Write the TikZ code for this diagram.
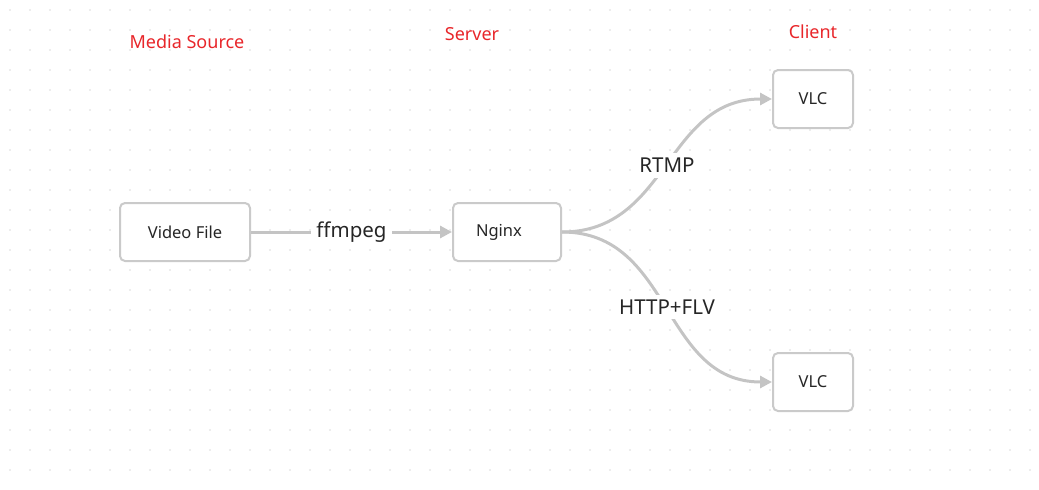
\documentclass[tikz,border=0pt]{standalone}
\usepackage{fontspec}
\setmainfont{Noto Sans}
\usetikzlibrary{arrows.meta}
\definecolor{edgegray}{HTML}{C4C4C4}
\definecolor{boxgray}{HTML}{CACACA}
\definecolor{titlered}{HTML}{E8262A}
\definecolor{dotgray}{HTML}{DADADA}
\begin{document}
\begin{tikzpicture}[x=1pt,y=-1pt,
  block/.style={draw=boxgray,line width=2pt,rounded corners=5pt,fill=white,
    minimum width=130pt,minimum height=58pt,font=\fontsize{16.5}{19}\selectfont,text=black!85},
  client/.style={block,minimum width=80pt},
  title/.style={text=titlered,font=\fontsize{18}{21}\selectfont},
  flow/.style={draw=edgegray,line width=3pt,-{Triangle[length=12pt,width=12pt]}},
  tag/.style={fill=white,inner sep=5pt,font=\fontsize{20.5}{24}\selectfont,text=black!85}]
  \useasboundingbox (0,0) rectangle (1039,490);
  % dot grid
  \foreach \i in {0,...,51}
    \foreach \j in {0,...,23}
      \fill [dotgray] (10+20*\i,10+20*\j) circle (0.8pt);
  \node[title] at (187,42) (src) {Media Source};
  \node[title] at (472,34) (srv) {Server};
  \node[title] at (813,32) (cli) {Client};
  \node[block] at (185,232) (video) {Video File};
  \node[block,minimum width=108pt,text width=62pt] at (507,232) (nginx) {Nginx};
  \node[client] at (813,99) (vlcA) {VLC};
  \node[client] at (813,382) (vlcB) {VLC};
  \draw[flow] (video) -- node[tag] {ffmpeg} (nginx);
  \draw[flow] (nginx.east) to[out=0,in=180,looseness=1.1] node[tag,pos=0.5] {RTMP} (vlcA.west);
  \draw[flow] (nginx.east) to[out=0,in=180,looseness=1.1] node[tag,pos=0.5] {HTTP+FLV} (vlcB.west);
\end{tikzpicture}
\end{document}
